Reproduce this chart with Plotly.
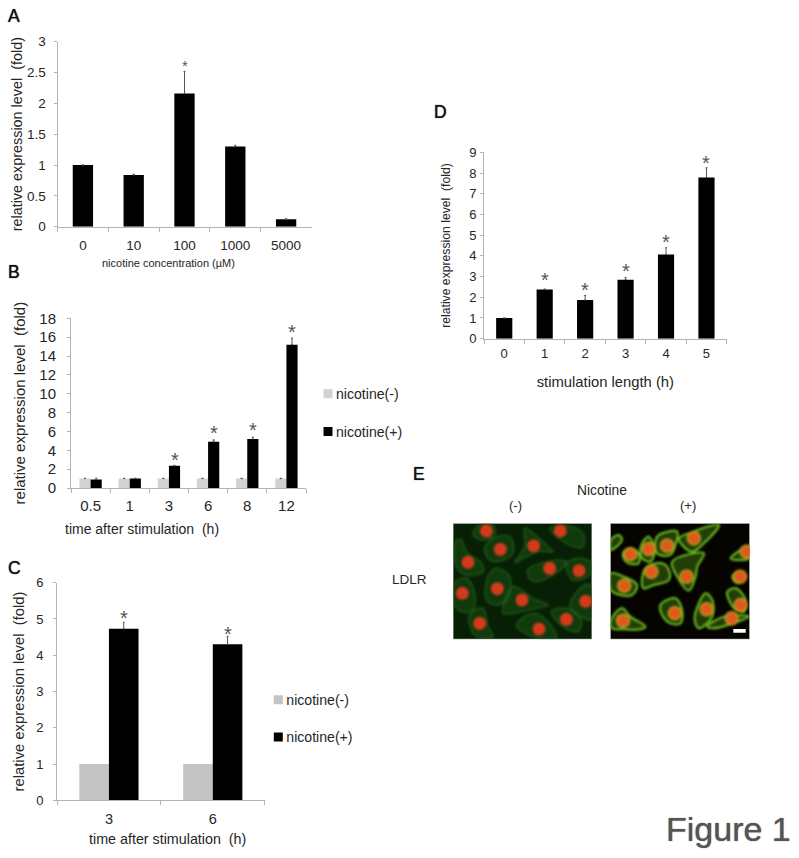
import plotly.graph_objects as go

W, H = 799, 858
SANS = "Liberation Sans"
AXC = "#b4b4b4"
TXT = "#262626"
GREY_B = "#d2d2d2"
GREY_C = "#c4c4c4"
ERR = "#555555"

# Panel A
a_cats = ["0", "10", "100", "1000", "5000"]
a_vals = [1.0, 0.84, 2.16, 1.30, 0.12]
a_errs = [0.0, 0.01, 0.36, 0.02, 0.01]
a_star_idx = [2]
a_star_y = [2.67]

# Panel B
b_cats = ["0.5", "1", "3", "6", "8", "12"]
b_neg = [1, 1, 1, 1, 1, 1]
b_neg_err = [0.03, 0.03, 0.03, 0.03, 0.03, 0.03]
b_pos = [0.9, 1.0, 2.35, 4.9, 5.2, 15.2]
b_pos_err = [0.15, 0.05, 0.05, 0.2, 0.2, 0.7]
b_star_idx = [2, 3, 4, 5]
b_star_y = [3.4, 6.25, 6.64, 17.0]

# Panel C
c_cats = ["3", "6"]
c_neg = [1, 1]
c_pos = [4.73, 4.30]
c_pos_err = [0.18, 0.22]
c_star_idx = [0, 1]
c_star_y = [5.14, 4.71]

# Panel D
d_cats = ["0", "1", "2", "3", "4", "5"]
d_vals = [1.0, 2.37, 1.87, 2.85, 4.07, 7.78]
d_errs = [0.0, 0.03, 0.22, 0.10, 0.32, 0.47]
d_star_idx = [1, 2, 3, 4, 5]
d_star_y = [3.03, 2.56, 3.48, 4.88, 8.68]

left_nuclei_x = [110, 332, 152, 252, 55, 300, 388, 143, 38, 217, 408, 90, 268, 350]
left_nuclei_y = [33, 33, 88, 78, 127, 145, 152, 206, 220, 240, 244, 310, 327, 298]
left_cells = [
    [(70, 45), (90, 15), (130, 15), (135, 45), (100, 60)],
    [(105, 85), (130, 55), (180, 50), (190, 100), (140, 125), (115, 115)],
    [(195, 128), (225, 80), (225, 25), (300, 85), (310, 95), (270, 95), (230, 110)],
    [(20, 60), (35, 60), (50, 95), (95, 130), (100, 155), (50, 165), (20, 140)],
    [(300, 25), (340, 15), (400, 40), (400, 80), (360, 75)],
    [(235, 150), (290, 125), (350, 125), (325, 155), (260, 185), (240, 175)],
    [(350, 130), (395, 115), (425, 130), (420, 165), (370, 180)],
    [(115, 170), (140, 145), (180, 170), (175, 235), (140, 255), (110, 240)],
    [(12, 190), (50, 175), (75, 220), (70, 270), (35, 275), (12, 250)],
    [(160, 280), (190, 200), (250, 235), (295, 255), (260, 265), (190, 280)],
    [(360, 260), (405, 195), (427, 200), (427, 300), (395, 290)],
    [(60, 285), (100, 265), (115, 320), (130, 350), (75, 345)],
    [(200, 315), (250, 280), (290, 300), (320, 355), (250, 350)],
    [(305, 275), (350, 265), (395, 300), (385, 335), (340, 320)],
]
right_nuclei_x = [260, 180, 125, 70, 418, 133, 238, 398, 52, 298, 203, 400, 373, 48]
right_nuclei_y = [55, 77, 87, 103, 95, 155, 170, 170, 197, 268, 280, 255, 295, 302]
right_cells = [
    [(150, 50), (210, 35), (205, 75), (190, 105), (150, 100)],
    [(215, 55), (260, 35), (300, 20), (335, 15), (290, 70), (255, 95), (225, 75)],
    [(105, 70), (125, 50), (142, 95), (130, 125), (105, 115), (100, 100)],
    [(50, 95), (70, 85), (95, 100), (95, 130), (65, 130), (50, 115)],
    [(12, 60), (35, 45), (45, 60), (12, 90)],
    [(105, 175), (120, 140), (165, 130), (185, 150), (185, 180), (140, 195), (110, 205)],
    [(195, 125), (290, 100), (270, 140), (265, 170), (245, 212), (210, 170)],
    [(12, 160), (50, 170), (90, 195), (75, 225), (40, 225), (12, 210)],
    [(370, 115), (425, 80), (425, 115), (390, 120)],
    [(375, 170), (395, 155), (415, 170), (390, 190)],
    [(360, 215), (385, 205), (415, 240), (410, 275), (380, 265)],
    [(262, 295), (295, 220), (315, 240), (315, 290), (275, 325)],
    [(160, 255), (205, 235), (225, 270), (220, 310), (190, 310), (165, 285)],
    [(12, 300), (45, 265), (70, 290), (115, 320), (100, 328), (50, 328), (15, 325)],
    [(300, 320), (350, 290), (425, 290), (370, 312), (320, 325)],
]


def px_x(a, b):
    return [a / W, b / W]


def px_y(top, bottom):
    return [1 - bottom / H, 1 - top / H]


def flat(polys):
    xs, ys = [], []
    for poly in polys:
        pts = poly + [poly[0]]
        xs += [p[0] for p in pts] + [None]
        ys += [p[1] for p in pts] + [None]
    return xs, ys


fig = go.Figure()


def bar(name, x, y, err, color, ax, ay, **kw):
    fig.add_trace(go.Bar(
        name=name, x=x, y=y, xaxis=ax, yaxis=ay, marker=dict(color=color, line_width=0),
        error_y=dict(type="data", array=err, arrayminus=[0] * len(y), symmetric=False,
                     color=ERR, thickness=1, width=1) if err else None,
        **kw))


bar("A", a_cats, a_vals, a_errs, "#000000", "x", "y", showlegend=False)
bar("nicotine(-)", b_cats, b_neg, b_neg_err, GREY_B, "x2", "y2", legend="legend", legendgroup="b-", offsetgroup="n")
bar("nicotine(+)", b_cats, b_pos, b_pos_err, "#000000", "x2", "y2", legend="legend", legendgroup="b+", offsetgroup="p")
bar("nicotine(-)", c_cats, c_neg, None, GREY_C, "x3", "y3", legend="legend2", legendgroup="c-", offsetgroup="n")
bar("nicotine(+)", c_cats, c_pos, c_pos_err, "#000000", "x3", "y3", legend="legend2", legendgroup="c+", offsetgroup="p")
bar("D", d_cats, d_vals, d_errs, "#000000", "x4", "y4", showlegend=False)

for polys, line, fill, ax, ay in [
    (left_cells, dict(color="rgba(55,135,40,0.35)", width=2, shape="spline"), "rgba(28,88,22,0.45)", "x5", "y5"),
    (right_cells, dict(color="#6cc01e", width=2, shape="spline"), "rgba(60,110,15,0.55)", "x6", "y6"),
]:
    for poly in polys:
        px, py = flat([poly])
        fig.add_trace(go.Scatter(x=px, y=py, xaxis=ax, yaxis=ay, mode="lines", fill="toself", showlegend=False,
                                 line=line, fillcolor=fill))
fig.add_trace(go.Scatter(x=left_nuclei_x, y=left_nuclei_y, xaxis="x5", yaxis="y5", mode="markers", showlegend=False,
                         marker=dict(size=13, color="#d23a1c", line_width=0)))
fig.add_trace(go.Scatter(x=right_nuclei_x, y=right_nuclei_y, xaxis="x6", yaxis="y6", mode="markers", showlegend=False,
                         marker=dict(size=13, color="#de5a1c", line=dict(color="rgba(190,170,30,0.7)", width=2))))


def cat_axis(x0, x1, anchor, standoff, size):
    return dict(domain=px_x(x0, x1), anchor=anchor, type="category", tickson="boundaries",
                showline=True, linecolor=AXC, linewidth=1, ticks="outside", ticklen=4, tickcolor=AXC,
                showgrid=False, zeroline=False, ticklabelstandoff=standoff,
                tickfont=dict(family=SANS, size=size, color=TXT), automargin=False)


def val_axis(top, bottom, anchor, vmax, dtick, size, lstand, tsize, tstand):
    return dict(domain=px_y(top, bottom), anchor=anchor, range=[0, vmax], dtick=dtick, showline=True,
                linecolor=AXC, linewidth=1, ticks="outside", ticklen=3, tickcolor=AXC, showgrid=False,
                zeroline=False, ticklabelstandoff=lstand,
                tickfont=dict(family=SANS, size=size, color=TXT), automargin=False,
                title=dict(text="relative expression level\u00a0 (fold)",
                           font=dict(family=SANS, size=tsize, color=TXT), standoff=tstand))


xa = cat_axis(57.5, 311.5, "y", 6, 13.5)
ya = val_axis(41.7, 226.7, "x", 3, 0.5, 13.5, 5, 14.4, 0)
xb = cat_axis(71, 306, "y2", 4, 15)
yb = val_axis(318.3, 488, "x2", 18, 2, 15, 8, 15, 10)
xc = cat_axis(57, 264.7, "y3", 5, 14.5)
yc = val_axis(582.7, 800.3, "x3", 6, 1, 13, 7, 14.8, 7)
xd = cat_axis(484, 726.7, "y4", 3, 13)
yd = val_axis(152.3, 338.7, "x4", 9, 1, 13, 1, 12.2, 15)
xd["title"] = dict(text="stimulation length (h)", font=dict(family=SANS, size=14.8, color=TXT), standoff=16)


def pic_axis(x0, x1, anchor):
    return dict(domain=px_x(x0, x1), range=[10, 427], visible=False, anchor=anchor, fixedrange=True)


def pic_yaxis(anchor):
    return dict(domain=px_y(523.3, 639.3), range=[358, 10], visible=False, anchor=anchor, fixedrange=True)


def note(x, y, text, size=13, color=TXT, shadow=None):
    font = dict(size=size, color=color, family=SANS)
    if shadow:
        font["shadow"] = shadow
    return dict(xref="paper", yref="paper", x=x / W, y=1 - y / H, text=text, showarrow=False,
                xanchor="center", yanchor="middle", font=font)


def stars(idx, ys, xref, yref, offset, size):
    return [dict(xref=xref, yref=yref, x=i + offset, y=v, text="*", showarrow=False, yanchor="middle",
                 yshift=-size * 0.22, font=dict(family=SANS, size=size, color="#555555"))
            for i, v in zip(idx, ys)]


annotations = []
annotations += stars(a_star_idx, a_star_y, "x", "y", 0, 15)
annotations += stars(b_star_idx, b_star_y, "x2", "y2", 0.1425, 20)
annotations += stars(c_star_idx, c_star_y, "x3", "y3", 0.1425, 20)
annotations += stars(d_star_idx, d_star_y, "x4", "y4", 0, 20)
for letter, lxp, lyp in [("A", 14.5, 16), ("B", 14, 272), ("C", 14.5, 568), ("D", 440.5, 112), ("E", 419, 474)]:
    annotations.append(note(lxp, lyp, letter, size=17.5, color="#111111", shadow="0 0 1px #111111"))
annotations.append(note(168, 262.5, "nicotine concentration (\u00b5M)", size=11))
annotations.append(note(142, 529, "time after stimulation\u00a0 (h)", size=14))
annotations.append(note(167.5, 839, "time after stimulation\u00a0 (h)", size=14.3))
annotations.append(note(601.7, 490.7, "Nicotine", size=13.8))
annotations.append(note(515.7, 505.7, "(-)", size=13))
annotations.append(note(687.7, 505.7, "(+)", size=13))
annotations.append(note(409, 579, "LDLR", size=13.5))
annotations.append(note(728.5, 829, "Figure 1", size=34, color="#555555", shadow="0 0 1px #555555"))

shapes = [
    dict(type="rect", layer="below", xref="x5", yref="y5", x0=10, x1=427, y0=10, y1=358,
         fillcolor="#072005", line=dict(color="#bdbdbd", width=1)),
    dict(type="rect", layer="below", xref="x6", yref="y6", x0=10, x1=427, y0=10, y1=358,
         fillcolor="#060400", line=dict(color="#bdbdbd", width=1)),
    dict(type="rect", layer="above", xref="x6", yref="y6", x0=378, x1=415, y0=327, y1=338,
         fillcolor="#ffffff", line_width=0),
]

legend_common = dict(xanchor="left", yanchor="top", bgcolor="rgba(0,0,0,0)", borderwidth=0,
                     itemclick=False, itemdoubleclick=False,
                     font=dict(family=SANS, size=14.1, color=TXT))

fig.update_layout(
    width=W, height=H, margin=dict(l=0, r=0, t=0, b=0, pad=0, autoexpand=False),
    paper_bgcolor="#ffffff", plot_bgcolor="rgba(0,0,0,0)", hovermode=False,
    barmode="group", bargap=0.43, bargroupgap=0,
    xaxis=xa, yaxis=ya, xaxis2=xb, yaxis2=yb, xaxis3=xc, yaxis3=yc, xaxis4=xd, yaxis4=yd,
    xaxis5=pic_axis(453, 592, "y5"), yaxis5=pic_yaxis("x5"),
    xaxis6=pic_axis(610.3, 749.7, "y6"), yaxis6=pic_yaxis("x6"),
    legend=dict(x=308 / W, y=1 - 378 / H, tracegroupgap=16.5, **legend_common),
    legend2=dict(x=258.3 / W, y=1 - 684 / H, tracegroupgap=16, **legend_common),
    annotations=annotations, shapes=shapes,
)
# single-series panels have narrower bars than the grouped ones
fig.data[0].width = 0.4
fig.data[5].width = 0.4

fig.write_html(
    "out.html",
    config=dict(displayModeBar=False),
    post_script=(
        "document.body.style.margin='0';document.body.style.overflow='hidden';"
        "function tidy(){"
        "document.querySelectorAll('.legendtext,.legend2text').forEach(function(t){t.setAttribute('x',28);});"
        "document.querySelectorAll('.legendpoints path').forEach(function(p){"
        "if(!p.dataset.s){p.dataset.s=1;p.setAttribute('transform',(p.getAttribute('transform')||'')+' scale(0.75)');}});"
        "['x5y5','x6y6'].forEach(function(s){var g=document.querySelector('.subplot.'+s+' .scatterlayer');"
        "if(g){g.style.filter='blur(1.3px)';}});"
        "}tidy();setTimeout(tidy,100);setTimeout(tidy,400);"
    ),
)
